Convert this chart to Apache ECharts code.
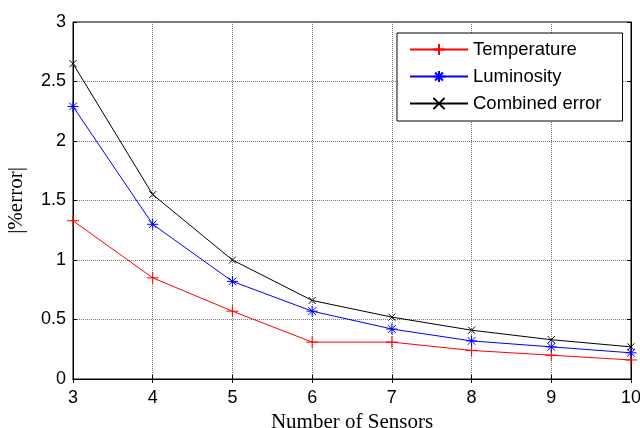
<!DOCTYPE html>
<html>
<head>
<meta charset="utf-8">
<script src="https://cdn.jsdelivr.net/npm/echarts@6/dist/echarts.min.js"></script>
<style>
  html, body { margin: 0; padding: 0; background: #fff; }
  #chart { width: 640px; height: 428px; }
</style>
</head>
<body>
<div id="chart"></div>
<script>
// number of sensors on the x axis
const sensors = [3, 4, 5, 6, 7, 8, 9, 10]
const temperature = [1.33, 0.85, 0.57, 0.31, 0.31, 0.24, 0.20, 0.16]
const luminosity = [2.29, 1.30, 0.82, 0.57, 0.42, 0.32, 0.27, 0.22]
const combined = [2.65, 1.55, 1.00, 0.66, 0.52, 0.41, 0.33, 0.27]
const yTicks = [0, 0.5, 1, 1.5, 2, 2.5, 3]

const plus = 'path://M0,-1L0,1M-1,0L1,0'
const star = 'path://M0,-1L0,1M-1,0L1,0M-0.7,-0.7L0.7,0.7M-0.7,0.7L0.7,-0.7'
const cross = 'path://M-1,-1L1,1M-1,1L1,-1'

const sansFont = 'Liberation Sans, Arial, sans-serif'
const serifFont = 'Liberation Serif, Times New Roman, serif'

function pairs(vals) {
  return sensors.map((s, i) => [s, vals[i]])
}

function makeSeries(name, vals, color, symbol, size) {
  return {
    name: name,
    type: 'line',
    data: pairs(vals),
    symbol: symbol,
    symbolSize: size,
    showAllSymbol: true,
    lineStyle: { color: color, width: 1 },
    itemStyle: { color: color, borderColor: color, borderWidth: 1 },
    emphasis: { disabled: true },
    animation: false
  }
}

const chart = echarts.init(document.getElementById('chart'))
chart.setOption({
  backgroundColor: '#fff',
  textStyle: { fontFamily: sansFont, color: '#000' },
  grid: {
    left: 73, right: 9, top: 22, bottom: 49,
    outerBoundsMode: 'none',
    containLabel: false,
    show: true, borderColor: '#000', borderWidth: 1
  },
  legend: {
    orient: 'vertical',
    left: 397,
    top: 33,
    padding: [7, 21, 8, 12],
    itemWidth: 58,
    itemHeight: 14,
    itemGap: 8,
    backgroundColor: '#fff',
    borderColor: '#000',
    borderWidth: 1,
    borderRadius: 0,
    textStyle: { fontSize: 18.5, color: '#000', fontFamily: sansFont },
    data: ['Temperature', 'Luminosity', 'Combined error']
  },
  xAxis: [{
    type: 'value',
    min: 3, max: 10, interval: 1,
    name: 'Number of Sensors',
    nameLocation: 'middle',
    nameGap: 32,
    nameTextStyle: { fontFamily: serifFont, fontSize: 21, color: '#000' },
    axisLine: { lineStyle: { color: '#000', width: 1 } },
    axisTick: { inside: true, length: 4, lineStyle: { color: '#000' } },
    axisLabel: { fontSize: 18, color: '#000', margin: 10 },
    splitLine: { show: true, lineStyle: { color: '#777', type: [1, 1], width: 1 } }
  }, {
    type: 'value', position: 'top',
    min: 3, max: 10, interval: 1,
    axisLine: { lineStyle: { color: '#000' } },
    axisTick: { inside: true, length: 4, lineStyle: { color: '#000' } },
    axisLabel: { show: false },
    splitLine: { show: false }
  }],
  yAxis: [{
    type: 'value',
    min: 0, max: 3, interval: 0.5,
    name: '|%error|',
    nameLocation: 'middle',
    nameGap: 46,
    nameRotate: 90,
    nameTextStyle: { fontFamily: serifFont, fontSize: 21, color: '#000' },
    axisLine: { show: true, lineStyle: { color: '#000', width: 1 } },
    axisTick: { show: true, inside: true, length: 4, lineStyle: { color: '#000' } },
    axisLabel: { fontSize: 18, color: '#000', margin: 7,
      formatter: v => yTicks.includes(v) ? String(v) : '' },
    splitLine: { show: true, lineStyle: { color: '#777', type: [1, 1], width: 1 } }
  }, {
    type: 'value', position: 'right',
    min: 0, max: 3, interval: 0.5,
    axisLine: { show: true, lineStyle: { color: '#000' } },
    axisTick: { show: true, inside: true, length: 4, lineStyle: { color: '#000' } },
    axisLabel: { show: false },
    splitLine: { show: false }
  }],
  series: [
    makeSeries('Temperature', temperature, '#ff0000', plus, 12),
    makeSeries('Luminosity', luminosity, '#0000ff', star, 11),
    makeSeries('Combined error', combined, '#000000', cross, 7)
  ]
})
</script>
</body>
</html>
